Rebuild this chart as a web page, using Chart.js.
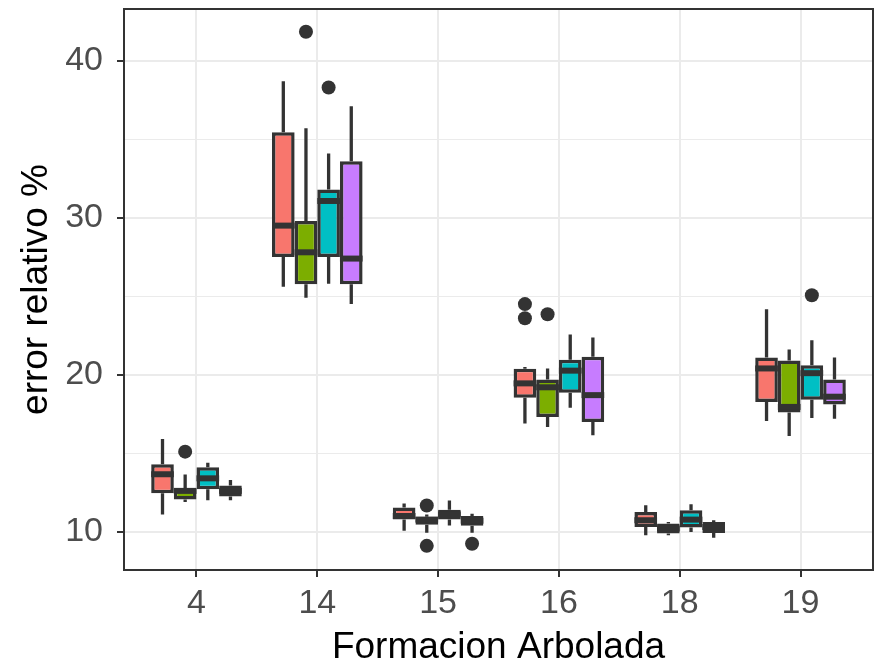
<!DOCTYPE html>
<html>
<head>
<meta charset="utf-8">
<script src="https://cdn.jsdelivr.net/npm/chart.js@4.4.0/dist/chart.umd.min.js"></script>
<style>
  html, body { margin: 0; padding: 0; background: #fff; }
</style>
</head>
<body>
<canvas id="chart" width="875" height="666"></canvas>
<script>
// formaciones arboladas (eje x)
const categories = ['4', '14', '15', '16', '18', '19'];
const seriesColors = ['#F8766D', '#7CAE00', '#00BFC4', '#C77CFF'];

// una fila por serie, una columna por formacion
const lowWhisker = [
    [11.1, 25.6, 10.06, 16.9, 9.77, 17.05],
    [11.9, 24.9, 9.94, 16.67, 9.77, 16.1],
    [12.0, 25.8, 10.4, 17.9, 9.98, 17.25],
    [12.0, 24.5, 9.94, 16.15, 9.62, 17.2]
];
const q1 = [
    [12.45, 27.5, 10.77, 18.53, 10.3, 18.27],
    [12.05, 25.77, 10.45, 17.3, 9.88, 17.6],
    [12.7, 27.5, 10.77, 18.85, 10.26, 18.4],
    [12.24, 25.77, 10.38, 16.99, 9.92, 18.1]
];
const median = [
    [13.66, 29.5, 11.0, 19.45, 10.73, 20.4],
    [12.6, 27.8, 10.77, 19.2, 10.2, 17.95],
    [13.4, 31.07, 11.1, 20.26, 10.77, 20.1],
    [12.6, 27.4, 10.7, 18.7, 10.3, 18.6]
];
const q3 = [
    [14.3, 35.45, 11.54, 20.38, 11.26, 21.1],
    [12.76, 29.8, 10.96, 19.7, 10.52, 20.9],
    [14.1, 31.8, 11.4, 20.96, 11.37, 20.6],
    [12.95, 33.6, 11.0, 21.15, 10.62, 19.7]
];
const highWhisker = [
    [15.9, 38.7, 11.8, 20.5, 11.68, 24.17],
    [13.65, 35.7, 11.1, 20.4, 10.62, 21.6],
    [14.4, 34.1, 11.99, 22.56, 11.75, 22.2],
    [13.3, 37.1, 11.15, 22.37, 10.73, 21.1]
];
const outliers = [
    [[], [], [], [24.5, 23.6], [], []],
    [[15.1], [41.85], [11.67, 9.1], [23.85], [], []],
    [[], [38.3], [], [], [], [25.06]],
    [[], [], [9.23], [], [], []]
];

const yTicks = [10, 20, 30, 40];

// bigotes, medianas, atipicos y marco del panel
const boxplotPlugin = {
    id: 'boxplot',
    afterDatasetsDraw(chart) {
        const ctx = chart.ctx;
        const y = chart.scales.y;
        ctx.save();
        ctx.strokeStyle = '#333333';
        ctx.fillStyle = '#333333';
        seriesColors.forEach((c, s) => {
            const meta = chart.getDatasetMeta(s);
            meta.data.forEach((bar, j) => {
                const x = bar.x;
                const w = bar.width;
                ctx.lineWidth = 3.3;
                ctx.beginPath();
                ctx.moveTo(x, y.getPixelForValue(q3[s][j]));
                ctx.lineTo(x, y.getPixelForValue(highWhisker[s][j]));
                ctx.moveTo(x, y.getPixelForValue(q1[s][j]));
                ctx.lineTo(x, y.getPixelForValue(lowWhisker[s][j]));
                ctx.stroke();

                const ym = y.getPixelForValue(median[s][j]);
                ctx.lineWidth = 6;
                ctx.beginPath();
                ctx.moveTo(x - w / 2, ym);
                ctx.lineTo(x + w / 2, ym);
                ctx.stroke();

                outliers[s][j].forEach(v => {
                    ctx.beginPath();
                    ctx.arc(x, y.getPixelForValue(v), 7, 0, Math.PI * 2);
                    ctx.fill();
                });
            });
        });
        const a = chart.chartArea;
        ctx.lineWidth = 2;
        ctx.strokeRect(a.left, a.top, a.right - a.left, a.bottom - a.top);
        ctx.restore();
    }
};

const datasets = seriesColors.map((color, s) => ({
    data: categories.map((c, j) => ({ x: j + 1, y: [q1[s][j], q3[s][j]] })),
    backgroundColor: color,
    borderColor: '#333333',
    borderWidth: 3.5,
    borderSkipped: false,
    categoryPercentage: 0.75,
    barPercentage: 1.0
}));

new Chart(document.getElementById('chart').getContext('2d'), {
    type: 'bar',
    data: { datasets: datasets },
    plugins: [boxplotPlugin],
    options: {
        responsive: false,
        animation: false,
        layout: { padding: { top: 9, right: 2, left: 0, bottom: 0 } },
        plugins: {
            legend: { display: false },
            tooltip: { enabled: false }
        },
        scales: {
            x: {
                type: 'linear',
                offset: false,
                min: 0.4,
                max: 6.6,
                afterFit: scale => {
                    scale.height = 96;
                    scale.paddingLeft = 0;
                    scale.paddingRight = 0;
                },
                grid: {
                    offset: false,
                    color: '#ebebeb',
                    lineWidth: 2,
                    tickColor: '#333333',
                    tickLength: 7,
                    tickWidth: 2
                },
                border: { color: '#333333', width: 2 },
                ticks: {
                    stepSize: 1,
                    includeBounds: false,
                    autoSkip: false,
                    maxRotation: 0,
                    color: '#4d4d4d',
                    padding: 6,
                    font: { family: 'Liberation Sans, Arial, sans-serif', size: 34 },
                    callback: v => categories[Math.round(v) - 1]
                },
                title: {
                    display: true,
                    text: 'Formacion Arbolada',
                    color: '#000000',
                    padding: { top: 0, bottom: 0 },
                    font: { family: 'Liberation Sans, Arial, sans-serif', size: 37, lineHeight: 1.0 }
                }
            },
            y: {
                min: 7.56,
                max: 43.3,
                afterFit: scale => {
                    scale.width = 124;
                    scale.paddingTop = 0;
                    scale.paddingBottom = 0;
                },
                grid: {
                    color: '#ebebeb',
                    lineWidth: ctx => (yTicks.includes(ctx.tick.value) ? 2 : 1),
                    tickColor: ctx => (yTicks.includes(ctx.tick.value) ? '#333333' : 'rgba(0,0,0,0)'),
                    tickLength: 7,
                    tickWidth: 2
                },
                border: { color: '#333333', width: 2 },
                ticks: {
                    stepSize: 5,
                    includeBounds: false,
                    autoSkip: false,
                    color: '#4d4d4d',
                    padding: 14,
                    font: { family: 'Liberation Sans, Arial, sans-serif', size: 34 },
                    callback: v => (yTicks.includes(v) ? v : '')
                },
                title: {
                    display: true,
                    text: 'error relativo %',
                    color: '#000000',
                    padding: { top: 18, bottom: 0 },
                    font: { family: 'Liberation Sans, Arial, sans-serif', size: 37, lineHeight: 1.0 }
                }
            }
        }
    }
});
</script>
</body>
</html>
